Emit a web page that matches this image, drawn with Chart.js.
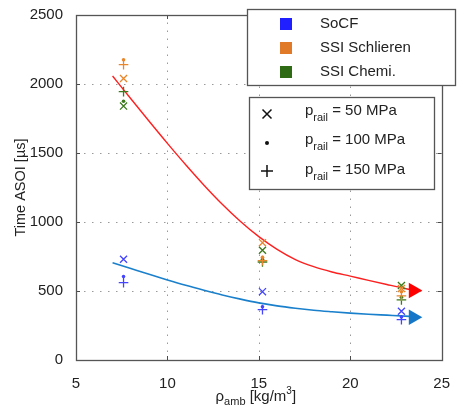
<!DOCTYPE html>
<html>
<head>
<meta charset="utf-8">
<script src="https://cdn.jsdelivr.net/npm/chart.js@4/dist/chart.umd.min.js"></script>
<style>
  html, body { margin: 0; padding: 0; background: #fff; }
  #wrap { width: 457px; height: 415px; position: relative; }
</style>
</head>
<body>
<div id="wrap"><canvas id="chart"></canvas></div>
<script>
// measured densities [kg/m3]
const rhoAmb = [7.6, 15.2, 22.8];

// time ASOI [us], per method and rail pressure (50 / 100 / 150 MPa)
const socf50 = [730, 495, 353];
const socf100 = [605, 385, 312];
const socf150 = [560, 365, 292];
const schl50 = [2040, 850, 518];
const schl100 = [2175, 745, 495];
const schl150 = [2140, 720, 465];
const chem50 = [1840, 795, 540];
const chem100 = [1875, 730, 455];
const chem150 = [1945, 710, 435];

// fitted trend lines
const fitX = [7, 8, 9, 10, 11, 12, 13, 14, 15, 16, 17, 18, 19, 20, 21, 22, 23, 23.4];
const fitSSI = [2058, 1893, 1730, 1570, 1415, 1267, 1129, 1004, 894, 802, 728, 676, 638, 608, 577, 547, 518, 508];
const fitSoCF = [705, 663, 621, 580, 541, 505, 471, 441, 414, 392, 375, 361, 350, 340, 332, 325, 318, 315];
const arrowX = [23.45];
const arrowSSI = [504];
const arrowSoCF = [310];

const xTicks = [5, 10, 15, 20, 25];
const yTicks = [0, 500, 1000, 1500, 2000, 2500];

const methods = ['SoCF', 'SSI Schlieren', 'SSI Chemi.'];
const methodColors = ['#4545ff', '#e8862c', '#3c7a1c'];
const legendColors = ['#1f1fff', '#e07a28', '#2f6a14'];
const pressures = ['50', '100', '150'];

const FONT = "'Liberation Sans', Arial, sans-serif";

const pts = (xs, ys) => xs.map((v, i) => ({ x: v, y: ys[i] }));

function markerSet(ys, color, style) {
  const base = { data: pts(rhoAmb, ys), borderColor: color, backgroundColor: color, showLine: false, order: 1 };
  if (style === 'x') return { ...base, pointStyle: 'crossRot', pointRadius: 5, borderWidth: 1.3 };
  if (style === 'dot') return { ...base, pointStyle: 'circle', pointRadius: 1.8, borderWidth: 0 };
  return { ...base, pointStyle: 'cross', pointRadius: 4.8, borderWidth: 1.3 };
}

const datasets = [
  { data: pts(fitX, fitSSI), showLine: true, borderColor: '#ff1f1f', borderWidth: 1.4, pointRadius: 0, cubicInterpolationMode: 'monotone', order: 2 },
  { data: pts(fitX, fitSoCF), showLine: true, borderColor: '#1a80cc', borderWidth: 1.6, pointRadius: 0, cubicInterpolationMode: 'monotone', order: 2 },
  { data: pts(arrowX, arrowSSI), pointStyle: 'triangle', pointRotation: 90, pointRadius: 9, backgroundColor: '#ff0000', borderColor: '#ff0000', borderWidth: 0, order: 0 },
  { data: pts(arrowX, arrowSoCF), pointStyle: 'triangle', pointRotation: 90, pointRadius: 9, backgroundColor: '#1676c8', borderColor: '#1676c8', borderWidth: 0, order: 0 },
  markerSet(socf50, methodColors[0], 'x'),
  markerSet(socf100, methodColors[0], 'dot'),
  markerSet(socf150, methodColors[0], 'plus'),
  markerSet(schl50, methodColors[1], 'x'),
  markerSet(schl100, methodColors[1], 'dot'),
  markerSet(schl150, methodColors[1], 'plus'),
  markerSet(chem50, methodColors[2], 'x'),
  markerSet(chem100, methodColors[2], 'dot'),
  markerSet(chem150, methodColors[2], 'plus'),
];

function drawMarker(ctx, style, x, y, color) {
  ctx.strokeStyle = color; ctx.fillStyle = color; ctx.lineWidth = 1.5;
  ctx.beginPath();
  if (style === 'x') {
    ctx.moveTo(x - 4.5, y - 4.5); ctx.lineTo(x + 4.5, y + 4.5);
    ctx.moveTo(x + 4.5, y - 4.5); ctx.lineTo(x - 4.5, y + 4.5);
    ctx.stroke();
  } else if (style === 'dot') {
    ctx.arc(x, y, 2, 0, Math.PI * 2); ctx.fill();
  } else {
    ctx.moveTo(x - 6, y); ctx.lineTo(x + 6, y);
    ctx.moveTo(x, y - 6); ctx.lineTo(x, y + 6);
    ctx.stroke();
  }
}

// draw text pieces (normal / sub / sup) one after another, returns end x
function richText(ctx, parts, x, y) {
  parts.forEach(p => {
    ctx.font = p.size + 'px ' + FONT;
    ctx.fillText(p.t, x, y + (p.dy || 0));
    x += ctx.measureText(p.t).width;
  });
  return x;
}
function richWidth(ctx, parts) {
  return parts.reduce((w, p) => { ctx.font = p.size + 'px ' + FONT; return w + ctx.measureText(p.t).width; }, 0);
}

// dotted matlab-style grid, under the data
const dottedGrid = {
  id: 'dottedGrid',
  beforeDatasetsDraw(chart) {
    const { ctx, chartArea: a, scales: { x, y } } = chart;
    ctx.save();
    ctx.strokeStyle = '#9a9a9a';
    ctx.lineWidth = 1;
    ctx.setLineDash([1.5, 6.5]);
    ctx.beginPath();
    xTicks.slice(1, -1).forEach(v => {
      const px = Math.round(x.getPixelForValue(v)) + 0.5;
      ctx.moveTo(px, a.bottom); ctx.lineTo(px, a.top);
    });
    yTicks.slice(1, -1).forEach(v => {
      const py = Math.round(y.getPixelForValue(v)) + 0.5;
      ctx.moveTo(a.left, py); ctx.lineTo(a.right, py);
    });
    ctx.stroke();
    ctx.restore();
  }
};

const decor = {
  id: 'decor',
  afterDraw(chart) {
    const { ctx, chartArea: a, scales: { x, y } } = chart;
    ctx.save();
    ctx.strokeStyle = '#4a4a4a'; ctx.lineWidth = 1;
    // inward ticks
    ctx.beginPath();
    xTicks.forEach(v => {
      const px = Math.round(x.getPixelForValue(v)) + 0.5;
      ctx.moveTo(px, a.bottom); ctx.lineTo(px, a.bottom - 4);
      ctx.moveTo(px, a.top); ctx.lineTo(px, a.top + 4);
    });
    yTicks.forEach(v => {
      const py = Math.round(y.getPixelForValue(v)) + 0.5;
      ctx.moveTo(a.left, py); ctx.lineTo(a.left + 4, py);
      ctx.moveTo(a.right, py); ctx.lineTo(a.right - 4, py);
    });
    ctx.stroke();
    // frame
    ctx.strokeStyle = '#555';
    ctx.lineWidth = 1.3;
    ctx.strokeRect(Math.round(a.left) + 0.5, Math.round(a.top) + 0.5, Math.round(a.width), Math.round(a.height));

    // axis titles
    ctx.fillStyle = '#222';
    ctx.textBaseline = 'middle';
    ctx.save();
    ctx.translate(21, (a.top + a.bottom) / 2);
    ctx.rotate(-Math.PI / 2);
    ctx.textAlign = 'center';
    ctx.font = '14.5px ' + FONT;
    ctx.fillText('Time ASOI [\u00b5s]', 0, 0);
    ctx.restore();

    ctx.textAlign = 'left';
    const xt = [
      { t: '\u03c1', size: 15 },
      { t: 'amb', size: 11, dy: 5 },
      { t: ' [kg/m', size: 15 },
      { t: '3', size: 10, dy: -6 },
      { t: ']', size: 15 },
    ];
    const cx = (a.left + a.right) / 2 - 3;
    richText(ctx, xt, cx - richWidth(ctx, xt) / 2, 397);

    // legend 1 : methods
    ctx.fillStyle = '#fff';
    ctx.fillRect(247, 9, 209, 77);
    ctx.strokeStyle = '#555'; ctx.lineWidth = 1.3;
    ctx.strokeRect(247.5, 9.5, 208, 76);
    methods.forEach((m, i) => {
      const cy = 24 + i * 24;
      ctx.fillStyle = legendColors[i];
      ctx.fillRect(280, cy - 6, 12, 12);
      ctx.fillStyle = '#222';
      ctx.font = '15px ' + FONT;
      ctx.fillText(m, 320, cy);
    });

    // legend 2 : rail pressure
    ctx.fillStyle = '#fff';
    ctx.fillRect(249, 97, 186, 93);
    ctx.strokeStyle = '#555';
    ctx.strokeRect(249.5, 97.5, 185, 92);
    const styles = ['x', 'dot', 'plus'];
    const rows = [111, 140, 170];
    const mrows = [114, 143, 171];
    pressures.forEach((p, i) => {
      drawMarker(ctx, styles[i], 267, mrows[i], '#111');
      ctx.fillStyle = '#222';
      richText(ctx, [
        { t: 'p', size: 15 },
        { t: 'rail', size: 11, dy: 7 },
        { t: ' = ' + p + ' MPa', size: 15 },
      ], 305, rows[i]);
    });
    ctx.restore();
  }
};

new Chart(document.getElementById('chart'), {
  type: 'scatter',
  data: { datasets },
  options: {
    responsive: true,
    maintainAspectRatio: false,
    animation: false,
    layout: { padding: { top: 15, right: 7, left: 0, bottom: 0 } },
    plugins: { legend: { display: false }, tooltip: { enabled: false } },
    scales: {
      x: {
        type: 'linear', min: 5, max: 25,
        afterFit(s) { s.height = 55; },
        afterBuildTicks(s) { s.ticks = xTicks.map(v => ({ value: v })); },
        ticks: { font: { family: FONT, size: 15 }, color: '#222', padding: 7, maxRotation: 0, callback: v => String(v) },
        grid: { display: false },
        border: { display: false },
      },
      y: {
        type: 'linear', min: 0, max: 2500,
        afterFit(s) { s.width = 76; },
        afterBuildTicks(s) { s.ticks = yTicks.map(v => ({ value: v })); },
        ticks: { font: { family: FONT, size: 15 }, color: '#222', padding: 5, callback: v => String(v) },
        grid: { display: false },
        border: { display: false },
      },
    },
  },
  plugins: [dottedGrid, decor],
});
</script>
</body>
</html>
